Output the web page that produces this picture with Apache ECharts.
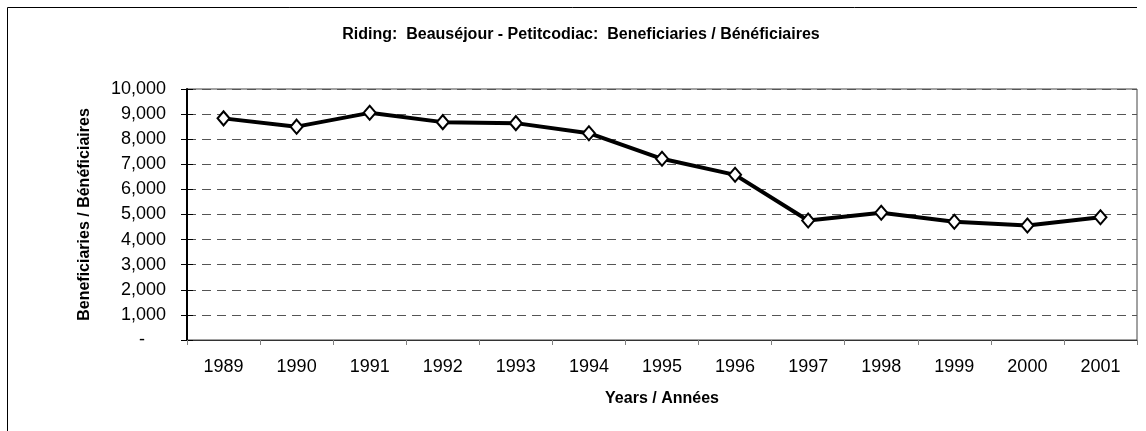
<!DOCTYPE html>
<html>
<head>
<meta charset="utf-8">
<script src="https://cdn.jsdelivr.net/npm/echarts@6/dist/echarts.min.js"></script>
<style>
  html, body { margin: 0; padding: 0; background: #fff; }
  #chart { width: 1146px; height: 431px; }
</style>
</head>
<body>
<div id="chart"></div>
<script>
// values
const years = ['1989', '1990', '1991', '1992', '1993', '1994', '1995', '1996', '1997', '1998', '1999', '2000', '2001'];
const beneficiaries = [8830, 8500, 9050, 8680, 8640, 8240, 7220, 6580, 4760, 5070, 4710, 4560, 4890];
const yTicks = [0, 1000, 2000, 3000, 4000, 5000, 6000, 7000, 8000, 9000, 10000];

const narrow = "'Liberation Sans Narrow', 'Arial Narrow', 'Liberation Sans', sans-serif";
const regular = "'Liberation Sans', Arial, sans-serif";

const chartDom = document.getElementById('chart');
const myChart = echarts.init(chartDom);

const option = {
  animation: false,
  backgroundColor: '#fff',
  title: {
    text: 'Riding:  Beauséjour - Petitcodiac:  Beneficiaries / Bénéficiaires',
    left: 576,
    textAlign: 'center',
    top: 22,
    textStyle: { fontFamily: narrow, fontWeight: 'bold', fontSize: 16, color: '#000' }
  },
  graphic: [
    {
      type: 'polyline',
      shape: { points: [[7.5, 431], [7.5, 7.5], [1137, 7.5]] },
      style: { stroke: '#000', lineWidth: 1, fill: null }
    }
  ],
  grid: {
    left: 187, right: 9, top: 89, bottom: 91,
    show: true, borderColor: '#444', borderWidth: 1, backgroundColor: 'transparent'
  },
  xAxis: {
    type: 'category',
    data: years,
    boundaryGap: true,
    name: 'Years / Années',
    nameLocation: 'middle',
    nameGap: 51,
    nameTextStyle: { fontFamily: narrow, fontWeight: 'bold', fontSize: 16, color: '#000' },
    axisLine: { lineStyle: { color: '#333', width: 1 } },
    axisTick: { show: true, length: 5, lineStyle: { color: '#808080' } },
    axisLabel: { fontFamily: regular, fontSize: 18, color: '#000', margin: 18 },
    splitLine: { show: false }
  },
  yAxis: [
    {
      type: 'value',
      min: yTicks[0],
      max: yTicks[yTicks.length - 1],
      interval: 1000,
      name: 'Beneficiaries / Bénéficiaires',
      nameLocation: 'middle',
      nameRotate: 90,
      nameGap: 94,
      nameTextStyle: { fontFamily: narrow, fontWeight: 'bold', fontSize: 16, color: '#000' },
      axisLine: { show: true, lineStyle: { color: '#000', width: 2 } },
      axisTick: { show: true, length: 6, lineStyle: { color: '#000' } },
      axisLabel: {
        fontFamily: regular, fontSize: 18, color: '#000', margin: 21,
        formatter: v => v === 0 ? '{z|-}' : v.toLocaleString('en-US'),
        rich: { z: { fontFamily: regular, fontSize: 18, color: '#000', padding: [0, 21, 0, 0] } }
      },
      splitLine: { show: true, lineStyle: { color: '#555', type: [9, 6], width: 1 } }
    },
    {
      type: 'value',
      min: yTicks[0],
      max: yTicks[yTicks.length - 1],
      interval: 1000,
      position: 'left',
      axisLine: { show: false },
      axisTick: { show: true, inside: true, length: 6, lineStyle: { color: '#000' } },
      axisLabel: { show: false },
      splitLine: { show: false }
    }
  ],
  series: [
    {
      type: 'line',
      data: beneficiaries,
      lineStyle: { color: '#000', width: 4 },
      symbol: 'diamond',
      symbolSize: [12, 14],
      itemStyle: { color: '#fff', borderColor: '#000', borderWidth: 2 }
    }
  ]
};

option && myChart.setOption(option);
</script>
</body>
</html>
